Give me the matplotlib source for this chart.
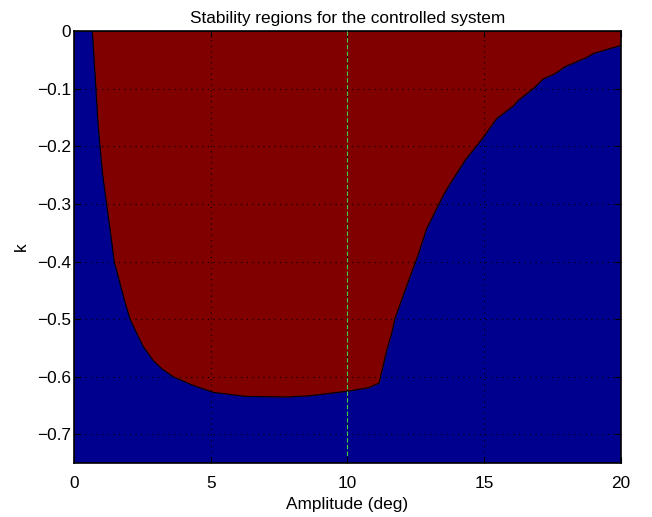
import matplotlib
matplotlib.use('Agg')
import matplotlib.pyplot as plt

# boundary between the two stability regions (amplitude in deg, gain k)
amp = [0.67, 0.80, 0.87, 0.95, 1.05, 1.19, 1.34, 1.47, 1.61, 1.72, 1.88, 2.05,
       2.33, 2.54, 2.90, 3.21, 3.63, 4.37, 5.10, 6.30, 7.80, 8.60, 10.00, 10.77,
       11.16, 11.44, 11.62, 11.74, 12.11, 12.60, 12.90, 13.51, 13.76, 14.31,
       14.98, 15.46, 16.07, 16.26, 16.80, 17.17, 17.60, 17.96, 18.75, 19.00,
       19.49, 20.00]
k = [0.0, -0.10, -0.155, -0.20, -0.25, -0.30, -0.352, -0.40, -0.425, -0.445,
     -0.473, -0.50, -0.528, -0.548, -0.572, -0.586, -0.600, -0.615, -0.627,
     -0.634, -0.635, -0.633, -0.625, -0.619, -0.611, -0.554, -0.525, -0.499,
     -0.450, -0.387, -0.343, -0.285, -0.265, -0.224, -0.184, -0.152, -0.130,
     -0.120, -0.100, -0.083, -0.074, -0.062, -0.046, -0.039, -0.032, -0.025]

amp_marker = 10

plt.rcParams['font.family'] = ['Liberation Sans', 'DejaVu Sans']
fs = 12.4

fig = plt.figure(figsize=(6.52, 5.17), dpi=100)
ax = fig.add_axes([0.1135, 0.104, 0.8385, 0.836])

ax.set_facecolor('#00008f')
ax.fill_between(amp, k, 0, color='#800000', linewidth=0, zorder=1)
ax.plot(amp, k, color='black', linewidth=0.8, zorder=2)
ax.plot([amp_marker, amp_marker], [0, -0.74], color='#40d040', linewidth=0.8,
        dashes=(4, 2), zorder=3)

ax.set_xlim(0, 20)
ax.set_ylim(-0.75, 0)
ax.set_xticks([0, 5, 10, 15, 20])
ax.set_yticks([-0.7, -0.6, -0.5, -0.4, -0.3, -0.2, -0.1, 0])
ax.set_yticklabels(['\u22120.7', '\u22120.6', '\u22120.5', '\u22120.4',
                    '\u22120.3', '\u22120.2', '\u22120.1', '0'])
ax.grid(True, color='black', linestyle=(0, (1, 4)), linewidth=0.8)
ax.set_axisbelow(False)
ax.tick_params(direction='in', top=True, right=True, labelsize=fs, length=4)
ax.tick_params(axis='x', pad=9.5)
ax.tick_params(axis='y', pad=2)
for s in ax.spines.values():
    s.set_linewidth(1.2)

ax.set_title('Stability regions for the controlled system', fontsize=fs,
             pad=6)
ax.set_xlabel('Amplitude (deg)', fontsize=fs, labelpad=4)
ax.set_ylabel('k', fontsize=fs, labelpad=6)

fig.savefig('out.png', dpi=100)
